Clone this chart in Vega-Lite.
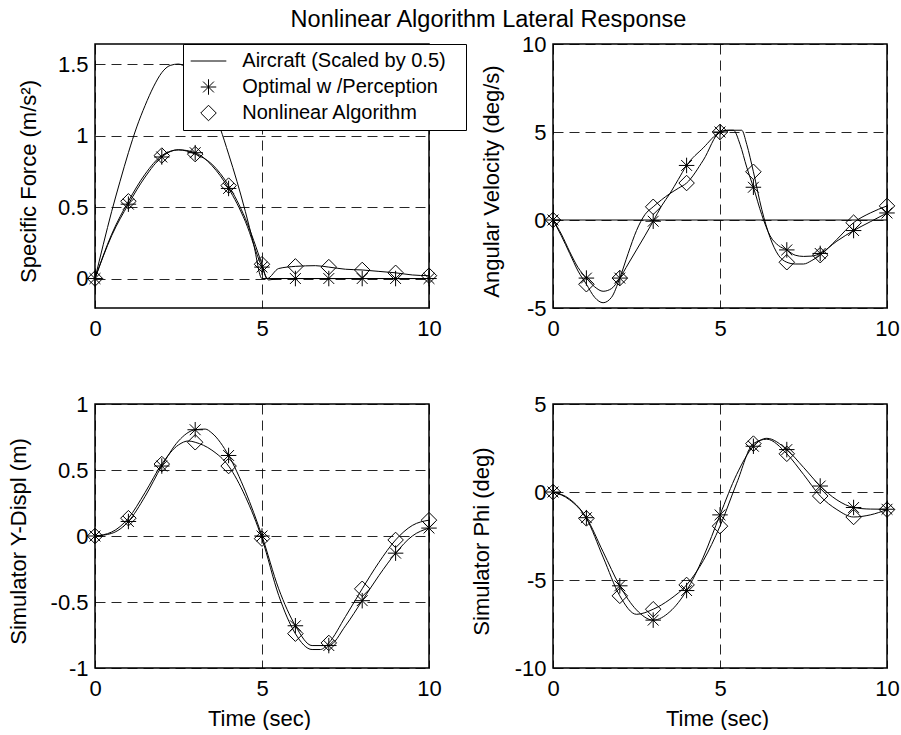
{
  "$schema": "https://vega.github.io/schema/vega-lite/v6.json",
  "background": "white",
  "padding": {"left": 6, "top": 7, "right": 0, "bottom": 0},
  "title": {"text": "Nonlinear Algorithm Lateral Response", "fontSize": 23.5, "fontWeight": "normal", "font": "Liberation Sans", "color": "black", "anchor": "middle", "frame": "group", "baseline": "alphabetic", "offset": -18, "dx": 393.5},
  "datasets": {
    "sf": [
      {"s": "A", "t": 0, "v": 0}, {"s": "A", "t": 0.25, "v": 0.24}, {"s": "A", "t": 0.5, "v": 0.47}, {"s": "A", "t": 0.75, "v": 0.68}, {"s": "A", "t": 1, "v": 0.88}, {"s": "A", "t": 1.25, "v": 1.06}, {"s": "A", "t": 1.5, "v": 1.21}, {"s": "A", "t": 1.75, "v": 1.34}, {"s": "A", "t": 2, "v": 1.44}, {"s": "A", "t": 2.25, "v": 1.49}, {"s": "A", "t": 2.5, "v": 1.5}, {"s": "A", "t": 2.75, "v": 1.47}, {"s": "A", "t": 3, "v": 1.41}, {"s": "A", "t": 3.25, "v": 1.32}, {"s": "A", "t": 3.5, "v": 1.2}, {"s": "A", "t": 3.75, "v": 1.05}, {"s": "A", "t": 4, "v": 0.87}, {"s": "A", "t": 4.25, "v": 0.68}, {"s": "A", "t": 4.5, "v": 0.47}, {"s": "A", "t": 4.75, "v": 0.24}, {"s": "A", "t": 5, "v": 0}, {"s": "A", "t": 10, "v": 0},
      {"s": "O", "t": 0, "v": 0}, {"s": "O", "t": 0.5, "v": 0.3}, {"s": "O", "t": 1, "v": 0.52}, {"s": "O", "t": 1.5, "v": 0.71}, {"s": "O", "t": 2, "v": 0.85}, {"s": "O", "t": 2.5, "v": 0.9}, {"s": "O", "t": 3, "v": 0.88}, {"s": "O", "t": 3.5, "v": 0.79}, {"s": "O", "t": 4, "v": 0.63}, {"s": "O", "t": 4.5, "v": 0.4}, {"s": "O", "t": 5, "v": 0.08}, {"s": "O", "t": 5.2, "v": -0.01}, {"s": "O", "t": 5.5, "v": 0}, {"s": "O", "t": 6, "v": 0}, {"s": "O", "t": 7, "v": 0}, {"s": "O", "t": 8, "v": 0}, {"s": "O", "t": 9, "v": 0}, {"s": "O", "t": 10, "v": 0},
      {"s": "N", "t": 0, "v": 0}, {"s": "N", "t": 0.5, "v": 0.31}, {"s": "N", "t": 1, "v": 0.54}, {"s": "N", "t": 1.5, "v": 0.73}, {"s": "N", "t": 2, "v": 0.86}, {"s": "N", "t": 2.5, "v": 0.9}, {"s": "N", "t": 3, "v": 0.87}, {"s": "N", "t": 3.5, "v": 0.8}, {"s": "N", "t": 4, "v": 0.65}, {"s": "N", "t": 4.5, "v": 0.42}, {"s": "N", "t": 5, "v": 0.1}, {"s": "N", "t": 5.15, "v": 0}, {"s": "N", "t": 5.5, "v": 0.07}, {"s": "N", "t": 6, "v": 0.085}, {"s": "N", "t": 6.6, "v": 0.09}, {"s": "N", "t": 7, "v": 0.08}, {"s": "N", "t": 7.5, "v": 0.065}, {"s": "N", "t": 8, "v": 0.06}, {"s": "N", "t": 8.5, "v": 0.05}, {"s": "N", "t": 9, "v": 0.04}, {"s": "N", "t": 9.5, "v": 0.025}, {"s": "N", "t": 10, "v": 0.02}
    ],
    "av": [
      {"s": "A", "t": 0, "v": 0}, {"s": "A", "t": 10, "v": 0},
      {"s": "O", "t": 0, "v": 0}, {"s": "O", "t": 0.25, "v": -0.8}, {"s": "O", "t": 0.5, "v": -1.8}, {"s": "O", "t": 0.75, "v": -2.7}, {"s": "O", "t": 1, "v": -3.3}, {"s": "O", "t": 1.25, "v": -3.8}, {"s": "O", "t": 1.5, "v": -4.05}, {"s": "O", "t": 1.75, "v": -3.9}, {"s": "O", "t": 2, "v": -3.3}, {"s": "O", "t": 2.25, "v": -2.5}, {"s": "O", "t": 2.5, "v": -1.7}, {"s": "O", "t": 2.75, "v": -0.9}, {"s": "O", "t": 3, "v": -0.07}, {"s": "O", "t": 3.25, "v": 0.8}, {"s": "O", "t": 3.5, "v": 1.5}, {"s": "O", "t": 3.75, "v": 2.3}, {"s": "O", "t": 4, "v": 3.1}, {"s": "O", "t": 4.5, "v": 4.1}, {"s": "O", "t": 5, "v": 5.0}, {"s": "O", "t": 5.2, "v": 5.1}, {"s": "O", "t": 5.4, "v": 5.1}, {"s": "O", "t": 5.6, "v": 4.3}, {"s": "O", "t": 5.8, "v": 3.0}, {"s": "O", "t": 6, "v": 1.86}, {"s": "O", "t": 6.25, "v": 0.3}, {"s": "O", "t": 6.5, "v": -0.9}, {"s": "O", "t": 6.75, "v": -1.45}, {"s": "O", "t": 7, "v": -1.7}, {"s": "O", "t": 7.25, "v": -2.0}, {"s": "O", "t": 7.5, "v": -2.07}, {"s": "O", "t": 7.75, "v": -2.05}, {"s": "O", "t": 8, "v": -1.9}, {"s": "O", "t": 8.5, "v": -1.2}, {"s": "O", "t": 9, "v": -0.6}, {"s": "O", "t": 9.5, "v": -0.1}, {"s": "O", "t": 10, "v": 0.4},
      {"s": "N", "t": 0, "v": 0}, {"s": "N", "t": 0.25, "v": -0.9}, {"s": "N", "t": 0.5, "v": -1.9}, {"s": "N", "t": 0.75, "v": -2.9}, {"s": "N", "t": 1, "v": -3.65}, {"s": "N", "t": 1.25, "v": -4.4}, {"s": "N", "t": 1.5, "v": -4.7}, {"s": "N", "t": 1.75, "v": -4.4}, {"s": "N", "t": 2, "v": -3.3}, {"s": "N", "t": 2.25, "v": -1.9}, {"s": "N", "t": 2.5, "v": -0.6}, {"s": "N", "t": 2.75, "v": 0.3}, {"s": "N", "t": 3, "v": 0.75}, {"s": "N", "t": 3.25, "v": 1.15}, {"s": "N", "t": 3.5, "v": 1.5}, {"s": "N", "t": 3.75, "v": 1.8}, {"s": "N", "t": 4, "v": 2.1}, {"s": "N", "t": 4.5, "v": 3.4}, {"s": "N", "t": 5, "v": 5.0}, {"s": "N", "t": 5.3, "v": 5.1}, {"s": "N", "t": 5.65, "v": 5.1}, {"s": "N", "t": 5.8, "v": 4.3}, {"s": "N", "t": 6, "v": 2.74}, {"s": "N", "t": 6.25, "v": 0.6}, {"s": "N", "t": 6.5, "v": -1.0}, {"s": "N", "t": 6.75, "v": -2.0}, {"s": "N", "t": 7, "v": -2.4}, {"s": "N", "t": 7.25, "v": -2.5}, {"s": "N", "t": 7.5, "v": -2.5}, {"s": "N", "t": 7.75, "v": -2.3}, {"s": "N", "t": 8, "v": -2.0}, {"s": "N", "t": 8.5, "v": -1.1}, {"s": "N", "t": 9, "v": -0.15}, {"s": "N", "t": 9.5, "v": 0.4}, {"s": "N", "t": 10, "v": 0.8}
    ],
    "yd": [
      {"s": "O", "t": 0, "v": 0}, {"s": "O", "t": 0.5, "v": 0.02}, {"s": "O", "t": 1, "v": 0.11}, {"s": "O", "t": 1.5, "v": 0.3}, {"s": "O", "t": 2, "v": 0.53}, {"s": "O", "t": 2.5, "v": 0.72}, {"s": "O", "t": 3, "v": 0.805}, {"s": "O", "t": 3.3, "v": 0.81}, {"s": "O", "t": 3.5, "v": 0.78}, {"s": "O", "t": 4, "v": 0.61}, {"s": "O", "t": 4.5, "v": 0.34}, {"s": "O", "t": 5, "v": 0.0}, {"s": "O", "t": 5.5, "v": -0.4}, {"s": "O", "t": 6, "v": -0.68}, {"s": "O", "t": 6.5, "v": -0.83}, {"s": "O", "t": 7, "v": -0.83}, {"s": "O", "t": 7.5, "v": -0.68}, {"s": "O", "t": 8, "v": -0.49}, {"s": "O", "t": 8.5, "v": -0.3}, {"s": "O", "t": 9, "v": -0.13}, {"s": "O", "t": 9.5, "v": 0.0}, {"s": "O", "t": 10, "v": 0.06},
      {"s": "N", "t": 0, "v": 0}, {"s": "N", "t": 0.5, "v": 0.03}, {"s": "N", "t": 1, "v": 0.135}, {"s": "N", "t": 1.5, "v": 0.33}, {"s": "N", "t": 2, "v": 0.545}, {"s": "N", "t": 2.5, "v": 0.69}, {"s": "N", "t": 2.8, "v": 0.72}, {"s": "N", "t": 3, "v": 0.71}, {"s": "N", "t": 3.5, "v": 0.65}, {"s": "N", "t": 4, "v": 0.53}, {"s": "N", "t": 4.5, "v": 0.3}, {"s": "N", "t": 5, "v": -0.02}, {"s": "N", "t": 5.5, "v": -0.45}, {"s": "N", "t": 6, "v": -0.74}, {"s": "N", "t": 6.5, "v": -0.86}, {"s": "N", "t": 6.75, "v": -0.86}, {"s": "N", "t": 7, "v": -0.81}, {"s": "N", "t": 7.5, "v": -0.61}, {"s": "N", "t": 8, "v": -0.4}, {"s": "N", "t": 8.5, "v": -0.2}, {"s": "N", "t": 9, "v": -0.03}, {"s": "N", "t": 9.5, "v": 0.08}, {"s": "N", "t": 10, "v": 0.12}
    ],
    "phi": [
      {"s": "O", "t": 0, "v": 0}, {"s": "O", "t": 0.5, "v": -0.4}, {"s": "O", "t": 1, "v": -1.46}, {"s": "O", "t": 1.5, "v": -3.4}, {"s": "O", "t": 2, "v": -5.33}, {"s": "O", "t": 2.5, "v": -6.7}, {"s": "O", "t": 3, "v": -7.28}, {"s": "O", "t": 3.5, "v": -6.8}, {"s": "O", "t": 4, "v": -5.6}, {"s": "O", "t": 4.5, "v": -3.7}, {"s": "O", "t": 5, "v": -1.3}, {"s": "O", "t": 5.5, "v": 1.0}, {"s": "O", "t": 6, "v": 2.6}, {"s": "O", "t": 6.4, "v": 3.05}, {"s": "O", "t": 7, "v": 2.41}, {"s": "O", "t": 7.5, "v": 1.4}, {"s": "O", "t": 8, "v": 0.34}, {"s": "O", "t": 8.5, "v": -0.45}, {"s": "O", "t": 9, "v": -0.88}, {"s": "O", "t": 9.5, "v": -0.97}, {"s": "O", "t": 10, "v": -0.98},
      {"s": "N", "t": 0, "v": 0}, {"s": "N", "t": 0.5, "v": -0.45}, {"s": "N", "t": 1, "v": -1.5}, {"s": "N", "t": 1.5, "v": -3.7}, {"s": "N", "t": 2, "v": -5.9}, {"s": "N", "t": 2.5, "v": -6.95}, {"s": "N", "t": 3, "v": -6.66}, {"s": "N", "t": 3.5, "v": -6.1}, {"s": "N", "t": 4, "v": -5.28}, {"s": "N", "t": 4.5, "v": -3.9}, {"s": "N", "t": 5, "v": -1.94}, {"s": "N", "t": 5.5, "v": 0.5}, {"s": "N", "t": 6, "v": 2.75}, {"s": "N", "t": 6.4, "v": 3.0}, {"s": "N", "t": 7, "v": 2.17}, {"s": "N", "t": 7.5, "v": 1.0}, {"s": "N", "t": 8, "v": -0.23}, {"s": "N", "t": 8.5, "v": -1.0}, {"s": "N", "t": 9, "v": -1.42}, {"s": "N", "t": 9.5, "v": -1.3}, {"s": "N", "t": 10, "v": -1.0}
    ]
  },
  "columns": 2,
  "spacing": {"row": 96, "column": 124},
  "bounds": "flush",
  "resolve": {"scale": {"shape": "independent"}, "legend": {"shape": "independent"}},
  "concat": [
    {
      "width": 334, "height": 264,
      "data": {"name": "sf"},
      "encoding": {
        "x": {"field": "t", "type": "quantitative", "scale": {"domain": [0, 10], "nice": false, "zero": false}, "axis": {"values": [0, 5, 10], "title": null}},
        "y": {"field": "v", "type": "quantitative", "scale": {"domain": [-0.206, 1.64], "nice": false, "zero": false}, "axis": {"values": [0, 0.5, 1, 1.5], "title": "Specific Force (m/s²)", "titleX": -60, "titleY": 137}}
      },
      "layer": [
        {"mark": {"type": "line", "color": "black", "strokeWidth": 1, "interpolate": "monotone"}, "encoding": {"detail": {"field": "s", "type": "nominal"}}},
        {"transform": [{"filter": "datum.s != 'A' && datum.t == floor(datum.t)"}],
         "mark": {"type": "point", "filled": false, "color": "black", "strokeWidth": 1, "size": 240, "opacity": 1},
         "encoding": {"shape": {"field": "s", "type": "nominal",
           "scale": {"domain": ["A", "O", "N"], "range": ["M-2.3,0L2.3,0", "M-1,0L1,0M0,-1L0,1M-0.7,-0.7L0.7,0.7M-0.7,0.7L0.7,-0.7", "diamond"]},
           "legend": {"orient": "none", "legendX": 88, "legendY": 0, "title": ".", "titleOrient": "right", "titleOpacity": 0, "titleFontSize": 10, "titlePadding": 10, "fillColor": "white", "strokeColor": "black", "padding": 7, "symbolSize": 240, "symbolOffset": 8.5, "labelOffset": 23.8, "rowPadding": 6, "labelFontSize": 20, "labelFont": "Liberation Sans", "labelColor": "black", "labelLimit": 400, "symbolStrokeColor": "black", "symbolStrokeWidth": 1,
             "labelExpr": "datum.value == 'A' ? 'Aircraft (Scaled by 0.5)' : datum.value == 'O' ? 'Optimal w /Perception' : 'Nonlinear Algorithm'"}}}}
      ]
    },
    {
      "width": 334, "height": 264,
      "data": {"name": "av"},
      "encoding": {
        "x": {"field": "t", "type": "quantitative", "scale": {"domain": [0, 10], "nice": false, "zero": false}, "axis": {"values": [0, 5, 10], "title": null}},
        "y": {"field": "v", "type": "quantitative", "scale": {"domain": [-5, 10], "nice": false, "zero": false}, "axis": {"values": [-5, 0, 5, 10], "title": "Angular Velocity (deg/s)", "titleX": -55, "titleY": 137}}
      },
      "layer": [
        {"mark": {"type": "line", "color": "black", "strokeWidth": 1, "interpolate": "monotone"}, "encoding": {"detail": {"field": "s", "type": "nominal"}}},
        {"transform": [{"filter": "datum.s != 'A' && datum.t == floor(datum.t)"}],
         "mark": {"type": "point", "filled": false, "color": "black", "strokeWidth": 1, "size": 240, "opacity": 1},
         "encoding": {"shape": {"field": "s", "type": "nominal",
           "scale": {"domain": ["A", "O", "N"], "range": ["M-2.3,0L2.3,0", "M-1,0L1,0M0,-1L0,1M-0.7,-0.7L0.7,0.7M-0.7,0.7L0.7,-0.7", "diamond"]}, "legend": null}}}
      ]
    },
    {
      "width": 334, "height": 264,
      "data": {"name": "yd"},
      "encoding": {
        "x": {"field": "t", "type": "quantitative", "scale": {"domain": [0, 10], "nice": false, "zero": false}, "axis": {"values": [0, 5, 10], "title": "Time (sec)", "titleX": 164, "titleY": 57, "titleBaseline": "alphabetic"}},
        "y": {"field": "v", "type": "quantitative", "scale": {"domain": [-1, 1], "nice": false, "zero": false}, "axis": {"values": [-1, -0.5, 0, 0.5, 1], "title": "Simulator Y-Displ (m)", "titleX": -69.5, "titleY": 137}}
      },
      "layer": [
        {"mark": {"type": "line", "color": "black", "strokeWidth": 1, "interpolate": "monotone"}, "encoding": {"detail": {"field": "s", "type": "nominal"}}},
        {"transform": [{"filter": "datum.s != 'A' && datum.t == floor(datum.t)"}],
         "mark": {"type": "point", "filled": false, "color": "black", "strokeWidth": 1, "size": 240, "opacity": 1},
         "encoding": {"shape": {"field": "s", "type": "nominal",
           "scale": {"domain": ["A", "O", "N"], "range": ["M-2.3,0L2.3,0", "M-1,0L1,0M0,-1L0,1M-0.7,-0.7L0.7,0.7M-0.7,0.7L0.7,-0.7", "diamond"]}, "legend": null}}}
      ]
    },
    {
      "width": 334, "height": 264,
      "data": {"name": "phi"},
      "encoding": {
        "x": {"field": "t", "type": "quantitative", "scale": {"domain": [0, 10], "nice": false, "zero": false}, "axis": {"values": [0, 5, 10], "title": "Time (sec)", "titleX": 164, "titleY": 57, "titleBaseline": "alphabetic"}},
        "y": {"field": "v", "type": "quantitative", "scale": {"domain": [-10, 5], "nice": false, "zero": false}, "axis": {"values": [-10, -5, 0, 5], "title": "Simulator Phi (deg)", "titleX": -65, "titleY": 137}}
      },
      "layer": [
        {"mark": {"type": "line", "color": "black", "strokeWidth": 1, "interpolate": "monotone"}, "encoding": {"detail": {"field": "s", "type": "nominal"}}},
        {"transform": [{"filter": "datum.s != 'A' && datum.t == floor(datum.t)"}],
         "mark": {"type": "point", "filled": false, "color": "black", "strokeWidth": 1, "size": 240, "opacity": 1},
         "encoding": {"shape": {"field": "s", "type": "nominal",
           "scale": {"domain": ["A", "O", "N"], "range": ["M-2.3,0L2.3,0", "M-1,0L1,0M0,-1L0,1M-0.7,-0.7L0.7,0.7M-0.7,0.7L0.7,-0.7", "diamond"]}, "legend": null}}}
      ]
    }
  ],
  "config": {
    "font": "Liberation Sans",
    "view": {"stroke": "black", "strokeWidth": 1.5},
    "axis": {
      "grid": true, "gridColor": "black", "gridDash": [10, 6], "gridWidth": 1, "gridOpacity": 0.85,
      "domain": false, "ticks": false, "tickSize": 0,
      "labelFont": "Liberation Sans", "labelFontSize": 22, "labelColor": "black", "labelPadding": 10,
      "labelExpr": "'' + datum.value",
      "titleFont": "Liberation Sans", "titleFontSize": 22, "titleFontWeight": "normal", "titleColor": "black", "titleBaseline": "alphabetic"
    },
    "axisX": {"labelBaseline": "top", "labelFlush": false},
    "axisY": {"labelPadding": 7, "labelBaseline": "middle"}
  }
}
